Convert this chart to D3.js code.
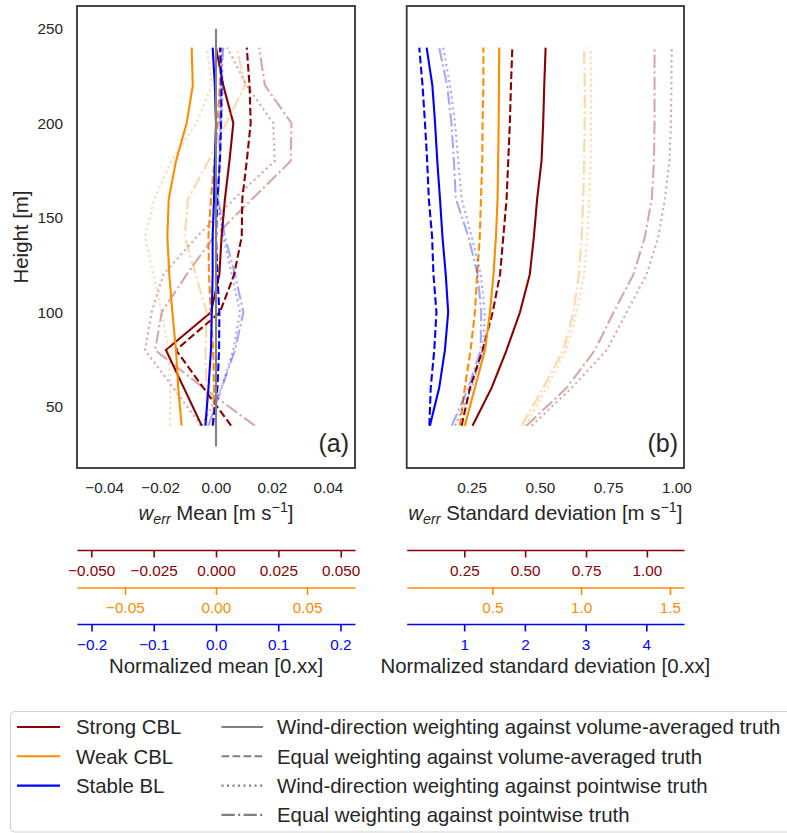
<!DOCTYPE html>
<html><head><meta charset="utf-8">
<script src="https://cdn.jsdelivr.net/npm/d3@7"></script>
<style>
body{margin:0;background:#fff}
svg{display:block;font-family:"Liberation Sans",Arial,sans-serif}
</style>
</head><body>
<svg id="chart" width="787" height="833"></svg>
<script>
// ---------------- DATA ----------------
const heights = [40, 60, 80, 100, 120, 140, 160, 180, 200, 220, 240];

// (a) mean of w_err [m/s], bottom (40 m) to top (240 m)
const meanStrongWV = [-0.0051, -0.0115, -0.0179, -0.0018, 0.0012, 0.0020, 0.0032, 0.0048, 0.0062, 0.0026, 0.0000];
const meanStrongEV = [0.0054, -0.0045, -0.0143, 0.0014, 0.0065, 0.0092, 0.0094, 0.0110, 0.0124, 0.0120, 0.0110];
const meanStrongWP = [-0.0054, -0.0152, -0.0254, -0.0230, -0.0188, -0.0068, 0.0065, 0.0210, 0.0205, 0.0110, 0.0040];
const meanStrongEP = [0.0139, -0.0045, -0.0218, -0.0194, -0.0105, -0.0007, 0.0130, 0.0267, 0.0270, 0.0175, 0.0154];
const meanWeakWV   = [-0.0123, -0.0135, -0.0143, -0.0156, -0.0167, -0.0174, -0.0169, -0.0143, -0.0105, -0.0083, -0.0087];
const meanWeakEV   = [-0.0010, -0.0007, -0.0010, -0.0019, -0.0025, -0.0027, -0.0018, -0.0005, 0.0006, 0.0014, 0.0019];
const meanWeakWP   = [-0.0164, -0.0164, -0.0170, -0.0194, -0.0224, -0.0254, -0.0220, -0.0160, -0.0070, -0.0015, -0.0033];
const meanWeakEP   = [-0.0033, -0.0034, -0.0038, -0.0033, -0.0073, -0.0112, -0.0100, -0.0027, 0.0036, 0.0104, 0.0074];
const meanStableWV = [-0.0038, -0.0027, -0.0018, -0.0015, -0.0012, -0.0012, -0.0007, -0.0004, 0.0000, -0.0004, -0.0012];
const meanStableEV = [-0.0012, 0.0005, 0.0011, 0.0012, 0.0005, 0.0000, 0.0005, 0.0014, 0.0018, 0.0020, 0.0014];
const meanStableWP = [-0.0051, 0.0020, 0.0062, 0.0086, 0.0056, 0.0026, 0.0005, 0.0014, 0.0020, 0.0024, 0.0020];
const meanStableEP = [-0.0027, 0.0020, 0.0068, 0.0098, 0.0068, 0.0032, 0.0008, 0.0012, 0.0014, 0.0017, 0.0026];

// (b) standard deviation of w_err [m/s]
const stdStrongWV = [0.253, 0.323, 0.378, 0.427, 0.463, 0.478, 0.490, 0.506, 0.512, 0.516, 0.521];
const stdStrongEV = [0.213, 0.244, 0.290, 0.327, 0.354, 0.366, 0.378, 0.384, 0.390, 0.394, 0.399];
const stdStrongWP = [0.470, 0.617, 0.745, 0.818, 0.891, 0.934, 0.958, 0.975, 0.980, 0.982, 0.983];
const stdStrongEP = [0.451, 0.598, 0.702, 0.770, 0.843, 0.885, 0.910, 0.918, 0.920, 0.920, 0.920];
const stdWeakWV   = [0.225, 0.262, 0.299, 0.317, 0.330, 0.339, 0.345, 0.347, 0.349, 0.350, 0.351];
const stdWeakEV   = [0.207, 0.225, 0.246, 0.262, 0.270, 0.280, 0.284, 0.289, 0.290, 0.293, 0.293];
const stdWeakWP   = [0.446, 0.525, 0.596, 0.635, 0.662, 0.674, 0.681, 0.686, 0.687, 0.687, 0.686];
const stdWeakEP   = [0.433, 0.512, 0.586, 0.623, 0.643, 0.653, 0.659, 0.662, 0.664, 0.665, 0.661];
const stdStableWV = [0.097, 0.131, 0.152, 0.164, 0.155, 0.143, 0.134, 0.124, 0.116, 0.106, 0.085];
const stdStableEV = [0.095, 0.100, 0.113, 0.121, 0.110, 0.105, 0.093, 0.087, 0.079, 0.070, 0.058];
const stdStableWP = [0.189, 0.250, 0.292, 0.298, 0.284, 0.250, 0.213, 0.201, 0.189, 0.171, 0.146];
const stdStableEP = [0.177, 0.238, 0.283, 0.285, 0.272, 0.238, 0.192, 0.185, 0.176, 0.160, 0.131];

const classNames  = ["Strong CBL", "Weak CBL", "Stable BL"];
const classColors = ["#8b0000", "#ff8c00", "#0000ff"];
const methodNames = [
  "Wind-direction weighting against volume-averaged truth",
  "Equal weighting against volume-averaged truth",
  "Wind-direction weighting against pointwise truth",
  "Equal weighting against pointwise truth"
];
const normFactors = [0.892, 0.651, 0.2225];   // normalisation per class

const heightTicks = [50, 100, 150, 200, 250];
const meanTicks = [-0.04, -0.02, 0.00, 0.02, 0.04];
const stdTicks  = [0.25, 0.50, 0.75, 1.00];
const meanNormTicks = [[-0.05, -0.025, 0, 0.025, 0.05], [-0.05, 0, 0.05], [-0.2, -0.1, 0, 0.1, 0.2]];
const meanNormFormats = [".3f", ".2f", ".1f"];
const stdNormTicks  = [[0.25, 0.5, 0.75, 1.0], [0.5, 1.0, 1.5], [1, 2, 3, 4]];
const stdNormFormats = [".2f", ".1f", "d"];
const refLineHeights = [29, 250];
const refLineValues  = [0, 0];

const meanSeries = [
  [meanStrongWV, meanStrongEV, meanStrongWP, meanStrongEP],
  [meanWeakWV, meanWeakEV, meanWeakWP, meanWeakEP],
  [meanStableWV, meanStableEV, meanStableWP, meanStableEP]
];
const stdSeries = [
  [stdStrongWV, stdStrongEV, stdStrongWP, stdStrongEP],
  [stdWeakWV, stdWeakEV, stdWeakWP, stdWeakEP],
  [stdStableWV, stdStableEV, stdStableWP, stdStableEP]
];

// ---------------- STYLE / LAYOUT ----------------
const methodDash = ["", "7.7,3.3", "2.1,3.4", "13.3,3.3,2.1,3.3"];
const methodOpacity = [1, 1, 0.35, 0.35];
const textColor = "#262626";
const tickFont = 15.3, labelFont = 20.4;

const svg = d3.select("#chart");
const plotTop = 6, plotBottom = 468;
const panels = [
  {left: 77, right: 355, domain: [-0.0497, 0.0497], ticks: meanTicks, fmt: ".2f",
   series: meanSeries, letter: "(a)", label: " Mean [m s", normTicks: meanNormTicks,
   normFmt: meanNormFormats, normTitle: "Normalized mean [0.xx]"},
  {left: 406.7, right: 684, domain: [0.012, 1.028], ticks: stdTicks, fmt: ".2f",
   series: stdSeries, letter: "(b)", label: " Standard deviation [m s", normTicks: stdNormTicks,
   normFmt: stdNormFormats, normTitle: "Normalized standard deviation [0.xx]"}
];

const y = d3.scaleLinear().domain([17.6, 262]).range([plotBottom, plotTop]);

panels.forEach((p, pi) => {
  const x = d3.scaleLinear().domain(p.domain).range([p.left, p.right]);
  const g = svg.append("g");

  const line = vals => d3.line()
    .x((d, i) => x(vals[i]))
    .y(d => y(d))(heights);

  p.series.forEach((cls, ci) => {
    cls.forEach((vals, mi) => {
      g.append("path")
        .attr("d", line(vals))
        .attr("fill", "none")
        .attr("stroke", classColors[ci])
        .attr("stroke-opacity", methodOpacity[mi])
        .attr("stroke-width", 2.1)
        .attr("stroke-dasharray", methodDash[mi] || null);
    });
  });

  if (pi === 0) {
    g.append("path")
      .attr("d", d3.line().x((d, i) => x(refLineValues[i])).y(d => y(d))(refLineHeights))
      .attr("stroke", "#808080").attr("stroke-width", 2.1).attr("fill", "none");
  }

  g.append("rect").attr("x", p.left).attr("y", plotTop)
    .attr("width", p.right - p.left).attr("height", plotBottom - plotTop)
    .attr("fill", "none").attr("stroke", "#333").attr("stroke-width", 1.8);

  const ax = svg.append("g").attr("transform", `translate(0,${plotBottom})`)
    .call(d3.axisBottom(x).tickValues(p.ticks).tickFormat(d3.format(p.fmt)).tickSize(0).tickPadding(14));
  ax.select(".domain").remove();
  ax.selectAll("text").attr("fill", textColor).style("font-size", tickFont + "px")
    .style("font-family", '"Liberation Sans",Arial,sans-serif');

  const cx = (p.left + p.right) / 2;
  const t = svg.append("text").attr("x", cx).attr("y", 520).attr("text-anchor", "middle")
    .attr("fill", textColor).style("font-size", labelFont + "px");
  t.append("tspan").style("font-style", "italic").text("w");
  t.append("tspan").style("font-style", "italic").style("font-size", "14.3px").attr("dy", 4).text("err");
  t.append("tspan").attr("dy", -4).text(p.label);
  t.append("tspan").style("font-size", "14.3px").attr("dy", -8).text("\u22121");
  t.append("tspan").attr("dy", 8).text("]");

  svg.append("text").attr("x", p.right - 6).attr("y", 452).attr("text-anchor", "end")
    .attr("fill", textColor).style("font-size", "25px").text(p.letter);

  const spineY = [550, 587.5, 624];
  classColors.forEach((col, ci) => {
    const xn = d3.scaleLinear()
      .domain([p.domain[0] / normFactors[ci], p.domain[1] / normFactors[ci]])
      .range([p.left, p.right]);
    const a = svg.append("g").attr("transform", `translate(0,${spineY[ci]})`)
      .call(d3.axisBottom(xn).tickValues(p.normTicks[ci]).tickFormat(d3.format(p.normFmt[ci]))
        .tickSizeInner(7.5).tickSizeOuter(0).tickPadding(7.5));
    a.select(".domain").attr("stroke", col).attr("stroke-width", 1.6);
    a.selectAll(".tick line").attr("stroke", col).attr("stroke-width", 1.6);
    a.selectAll("text").attr("fill", col).style("font-size", tickFont + "px")
      .style("font-family", '"Liberation Sans",Arial,sans-serif');
  });
  svg.append("text").attr("x", cx).attr("y", 673).attr("text-anchor", "middle")
    .attr("fill", textColor).style("font-size", labelFont + "px").text(p.normTitle);
});

const ay = svg.append("g").attr("transform", `translate(77,0)`)
  .call(d3.axisLeft(y).tickValues(heightTicks).tickSize(0).tickPadding(14));
ay.select(".domain").remove();
ay.selectAll("text").attr("fill", textColor).style("font-size", tickFont + "px")
  .style("font-family", '"Liberation Sans",Arial,sans-serif');
svg.append("text").attr("transform", "translate(28,237) rotate(-90)").attr("text-anchor", "middle")
  .attr("fill", textColor).style("font-size", labelFont + "px").text("Height [m]");

const lg = svg.append("g");
lg.append("rect").attr("x", 10.5).attr("y", 711.5).attr("width", 800).attr("height", 120.5)
  .attr("rx", 4).attr("fill", "#fff").attr("stroke", "#d0d0d0").attr("stroke-width", 1);
const rowY = i => 727 + 29.3 * i;
classNames.forEach((name, i) => {
  lg.append("line").attr("x1", 17).attr("x2", 60).attr("y1", rowY(i)).attr("y2", rowY(i))
    .attr("stroke", classColors[i]).attr("stroke-width", 2.1);
  lg.append("text").attr("x", 76).attr("y", rowY(i) + 7.3).attr("fill", textColor)
    .style("font-size", labelFont + "px").text(name);
});
methodNames.forEach((name, i) => {
  lg.append("line").attr("x1", 221.5).attr("x2", 263).attr("y1", rowY(i)).attr("y2", rowY(i))
    .attr("stroke", "#808080").attr("stroke-width", 2.1)
    .attr("stroke-dasharray", methodDash[i] || null);
  lg.append("text").attr("x", 277).attr("y", rowY(i) + 7.3).attr("fill", textColor)
    .style("font-size", labelFont + "px").text(name);
});
</script>
</body></html>
